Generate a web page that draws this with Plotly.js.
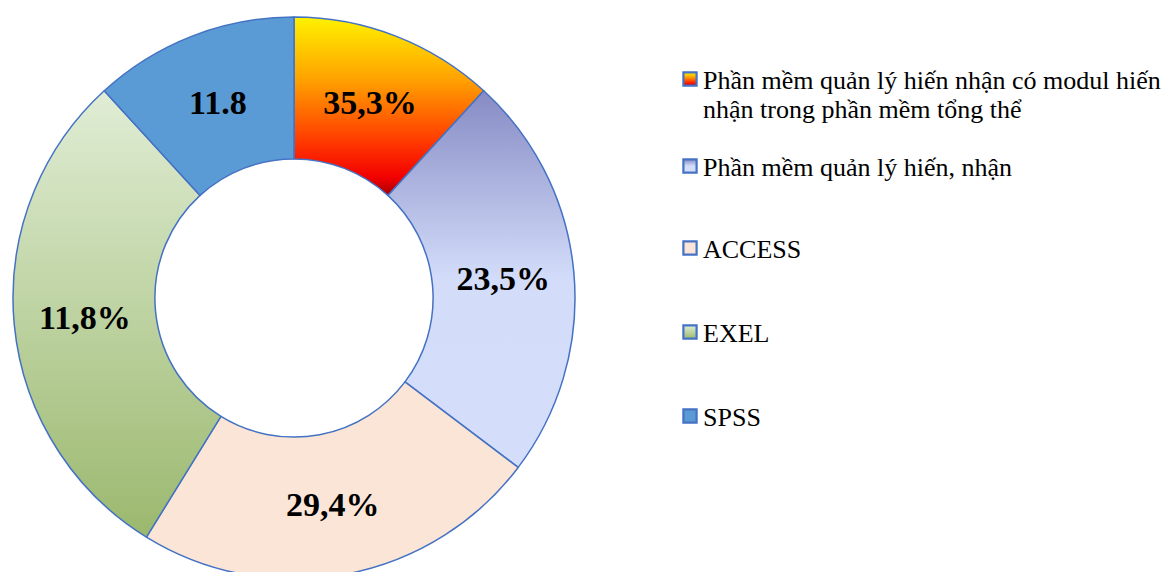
<!DOCTYPE html>
<html>
<head>
<meta charset="utf-8">
<script src="https://cdn.plot.ly/plotly-3.0.1.min.js"></script>
</head>
<body style="margin:0;background:#fff">
<div id="chart"></div>
<script>
// slices, clockwise from 12 o'clock
var softwareNames = [
  "Phần mềm quản lý hiến nhận có modul hiến<br>nhận trong phần mềm tổng thể",
  "Phần mềm quản lý hiến, nhận",
  "ACCESS",
  "EXEL",
  "SPSS"
];
var sliceShare = [11.8, 23.5, 23.5, 29.4, 11.8];
// labels as printed on the chart
var sliceText = ["35,3%", "23,5%", "29,4%", "11,8%", "11.8"];

var serif = "Liberation Serif";

var baseColors = ["#ff8a00", "#b4bce8", "#fbe5d6", "#c0d6a6", "#5b9bd5"];
// vertical gradients (top -> bottom), null = flat colour
var gradients = [
  [[0, "#fff200"], [0.35, "#ffa200"], [0.72, "#ff3300"], [0.9, "#f20000"], [1, "#a80000"]],
  [[0, "#868bc4"], [0.5, "#d3ddfa"], [1, "#d4defb"]],
  null,
  [[0, "#e0edd5"], [1, "#9bb86e"]],
  null
];

var trace = {
  type: "pie",
  labels: softwareNames,
  values: sliceShare,
  text: sliceText,
  textinfo: "text",
  textposition: "inside",
  insidetextorientation: "horizontal",
  insidetextfont: {family: serif, size: 34, color: "#000", weight: "bold"},
  hole: 0.495,
  sort: false,
  direction: "clockwise",
  rotation: 0,
  domain: {x: [0.01106, 0.48936], y: [0.035, 0.97167]},
  marker: {colors: baseColors, line: {color: "#4472c4", width: 1.5}},
  hoverinfo: "none"
};

var layout = {
  width: 1175,
  height: 600,
  margin: {l: 0, r: 0, t: 0, b: 0},
  showlegend: true,
  legend: {
    x: 0.565, y: 0.9,
    valign: "top",
    font: {family: serif, size: 26, color: "#000"}
  }
};

// where the legend markers sit in the original
var legendMarkY = [79, 166, 248, 332, 416];
var legendTextX = 703;
var legendMarkGap = 13;

function addGradients(gd) {
  var svgNS = "http://www.w3.org/2000/svg";
  var defs = gd.querySelector(".main-svg defs");
  gradients.forEach(function(stops, i){
    if(!stops) return;
    var lg = document.createElementNS(svgNS, "linearGradient");
    lg.setAttribute("id", "sliceGrad" + i);
    lg.setAttribute("x1", "0"); lg.setAttribute("y1", "0");
    lg.setAttribute("x2", "0"); lg.setAttribute("y2", "1");
    stops.forEach(function(s){
      var st = document.createElementNS(svgNS, "stop");
      st.setAttribute("offset", s[0]);
      st.setAttribute("stop-color", s[1]);
      lg.appendChild(st);
    });
    defs.appendChild(lg);
  });
  gd.querySelectorAll("g.slice path.surface").forEach(function(p, i){
    if(gradients[i]) p.style.fill = "url(#sliceGrad" + i + ")";
  });
  gd.querySelectorAll(".legend .traces .legendpoints path").forEach(function(p, i){
    if(gradients[i]) p.style.fill = "url(#sliceGrad" + i + ")";
    p.style.strokeWidth = "2px";
  });
}

function shiftBy(el, dx, dy) {
  var t = el.getAttribute("transform") || "";
  el.setAttribute("transform", "translate(" + dx + "," + dy + ") " + t);
}

function placeLegend(gd) {
  gd.querySelectorAll(".legend [clip-path]").forEach(function(el){
    el.removeAttribute("clip-path");
  });
  gd.querySelectorAll(".legend .traces").forEach(function(g, i){
    // tighter line spacing for the wrapped first entry
    g.querySelectorAll("text.legendtext tspan.line").forEach(function(ln, k){
      if(k > 0) ln.setAttribute("dy", (k * 1.1) + "em");
    });
    var pts = g.querySelector(".legendpoints");
    var mark = pts.querySelector("path");
    if(mark) mark.setAttribute("transform", "scale(1.1)");
    var txt = g.querySelector("text.legendtext");
    var pb = pts.getBoundingClientRect();
    var tb = txt.getBoundingClientRect();
    shiftBy(pts, (tb.left - legendMarkGap) - (pb.left + pb.width / 2), 0);
    pb = pts.getBoundingClientRect();
    shiftBy(g, legendTextX - tb.left, legendMarkY[i] - (pb.top + pb.height / 2));
  });
}

Plotly.newPlot("chart", [trace], layout, {staticPlot: true}).then(function(gd){
  addGradients(gd);
  placeLegend(gd);
});
</script>
</body>
</html>
